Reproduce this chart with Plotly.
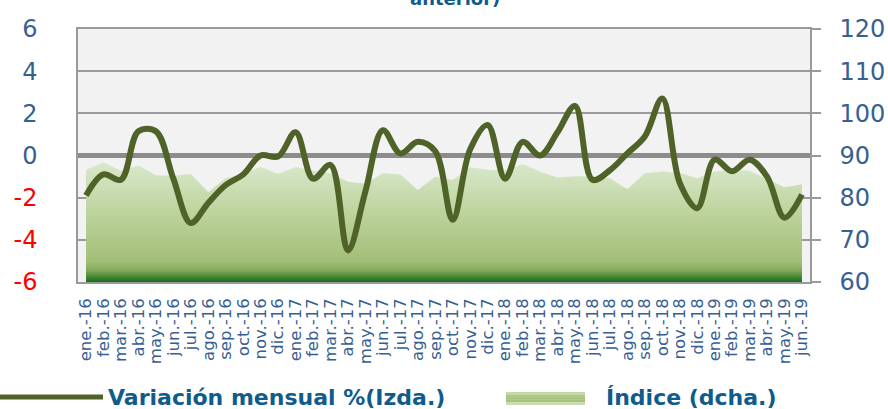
import plotly.graph_objects as go

meses = ["ene.-16", "feb.-16", "mar.-16", "abr.-16", "may.-16", "jun.-16", "jul.-16", "ago.-16",
         "sep.-16", "oct.-16", "nov.-16", "dic.-16",
         "ene.-17", "feb.-17", "mar.-17", "abr.-17", "may.-17", "jun.-17", "jul.-17", "ago.-17",
         "sep.-17", "oct.-17", "nov.-17", "dic.-17",
         "ene.-18", "feb.-18", "mar.-18", "abr.-18", "may.-18", "jun.-18", "jul.-18", "ago.-18",
         "sep.-18", "oct.-18", "nov.-18", "dic.-18",
         "ene.-19", "feb.-19", "mar.-19", "abr.-19", "may.-19", "jun.-19"]

variacion = [-1.9, -0.9, -1.15, 1.15, 1.15, -1.1, -3.2, -2.25, -1.4, -0.9, 0.0, -0.05,
             1.1, -1.1, -0.45, -4.5, -1.7, 1.2, 0.1, 0.65, 0.2, -3.05, 0.3, 1.45,
             -1.1, 0.65, 0.0, 1.1, 2.35, -1.15, -0.7, 0.1, 0.9, 2.7, -1.3, -2.5,
             -0.2, -0.75, -0.2, -1.0, -2.95, -1.85]

indice = [86.6, 88.4, 86.4, 87.6, 85.3, 85.2, 85.6, 81.3, 84.6, 85.6, 87.3, 85.7,
          87.3, 86.4, 85.8, 83.8, 83.3, 85.8, 85.5, 81.8, 85.0, 84.2, 87.2, 86.6,
          86.4, 88.0, 86.2, 84.8, 85.1, 85.0, 84.6, 82.0, 85.8, 86.2, 85.9, 84.6,
          86.2, 86.6, 86.4, 84.4, 82.5, 83.2]

izq_ticks = [-6, -4, -2, 0, 2, 4, 6]
der_ticks = [60, 70, 80, 90, 100, 110, 120]

AZUL = "#376092"
ROJO = "#ff0000"
TEXTO = "#0f5c8c"
OLIVA = "#4f6228"
GRIS = "#9a9a9a"

izq_text = [(f'<span style="color:{ROJO}">{v}</span>' if v < 0 else str(v)) for v in izq_ticks]

fig = go.Figure()

fig.add_trace(go.Scatter(
    x=meses, y=indice, yaxis="y", mode="none", fill="tozeroy",
    fillgradient=dict(type="vertical", start=60, stop=88,
                      colorscale=[[0.0, "#1b6b1b"], [0.04, "#3f8530"], [0.10, "#86aa5c"],
                                  [0.18, "#a3be78"], [0.6, "#bdd49e"], [1.0, "#d9e8ca"]]),
    name="Índice (dcha.)", showlegend=False, hoverinfo="skip"))

fig.add_trace(go.Scatter(
    x=meses, y=variacion, yaxis="y2", mode="lines",
    line=dict(color=OLIVA, width=6, shape="spline", smoothing=1),
    name="Variación mensual %(Izda.)", showlegend=False))

fig.update_layout(
    width=888, height=409,
    margin=dict(l=78, r=78, t=29, b=127, autoexpand=False),
    paper_bgcolor="white", plot_bgcolor="#f2f2f2",
    font=dict(family="DejaVu Sans", color=AZUL),
    xaxis=dict(type="category", range=[-0.46, 41.46], showgrid=False, automargin=False,
               tickmode="linear", tick0=0, dtick=1,
               showline=True, linecolor=GRIS, linewidth=1.5, mirror=True,
               ticks="", tickangle=-90, tickfont=dict(size=16.5, color=AZUL),
               ticklabelstandoff=8),
    yaxis=dict(side="right", range=[60, 120], tickvals=der_ticks, automargin=False,
               showgrid=True, gridcolor=GRIS, gridwidth=1.5, zeroline=False,
               showline=True, linecolor=GRIS, linewidth=1.5,
               ticks="outside", ticklen=9, tickcolor=GRIS, tickwidth=1.5,
               tickfont=dict(size=24, color=AZUL), ticklabelstandoff=14),
    yaxis2=dict(side="left", overlaying="y", range=[-6, 6], tickvals=izq_ticks,
                ticktext=izq_text, showgrid=False, automargin=False,
                zeroline=True, zerolinecolor="#8c8c8c", zerolinewidth=4.5,
                showline=True, linecolor=GRIS, linewidth=1.5, ticks="",
                tickfont=dict(size=24, color=AZUL), ticklabelstandoff=34),
)

# leyenda dibujada
fig.add_shape(type="line", xref="paper", yref="paper",
              x0=-78/732, x1=25/732, y0=-115/253, y1=-115/253,
              line=dict(color=OLIVA, width=5))
bandas = ["#c4d8a8", "#adc585", "#a3bd78", "#a9c27f", "#c9dcb0"]
h = 13 / 253 / len(bandas)
for k, c in enumerate(bandas):
    y_top = -110/253 - k * h
    fig.add_shape(type="rect", xref="paper", yref="paper",
                  x0=(506-78)/732, x1=(585-78)/732, y0=y_top - h, y1=y_top,
                  fillcolor=c, line=dict(width=0))
fig.add_annotation(text="<b>Variación mensual %(Izda.)</b>", xref="paper", yref="paper",
                   x=(106-78)/732, y=-115/253, xanchor="left", yanchor="middle",
                   showarrow=False, font=dict(size=22, color=TEXTO, family="DejaVu Sans"))
fig.add_annotation(text="<b>Índice (dcha.)</b>", xref="paper", yref="paper",
                   x=(604-78)/732, y=-115/253, xanchor="left", yanchor="middle",
                   showarrow=False, font=dict(size=22, color=TEXTO, family="DejaVu Sans"))
fig.add_annotation(text="<b>anterior)</b>", xref="paper", yref="paper",
                   x=(455-78)/732, y=1 + 31/253, xanchor="center", yanchor="middle",
                   showarrow=False, font=dict(size=18, color=TEXTO, family="DejaVu Sans"))

fig.write_html("out.html", config={"displayModeBar": False},
               post_script="document.body.style.margin='0';document.body.style.overflow='hidden';")
